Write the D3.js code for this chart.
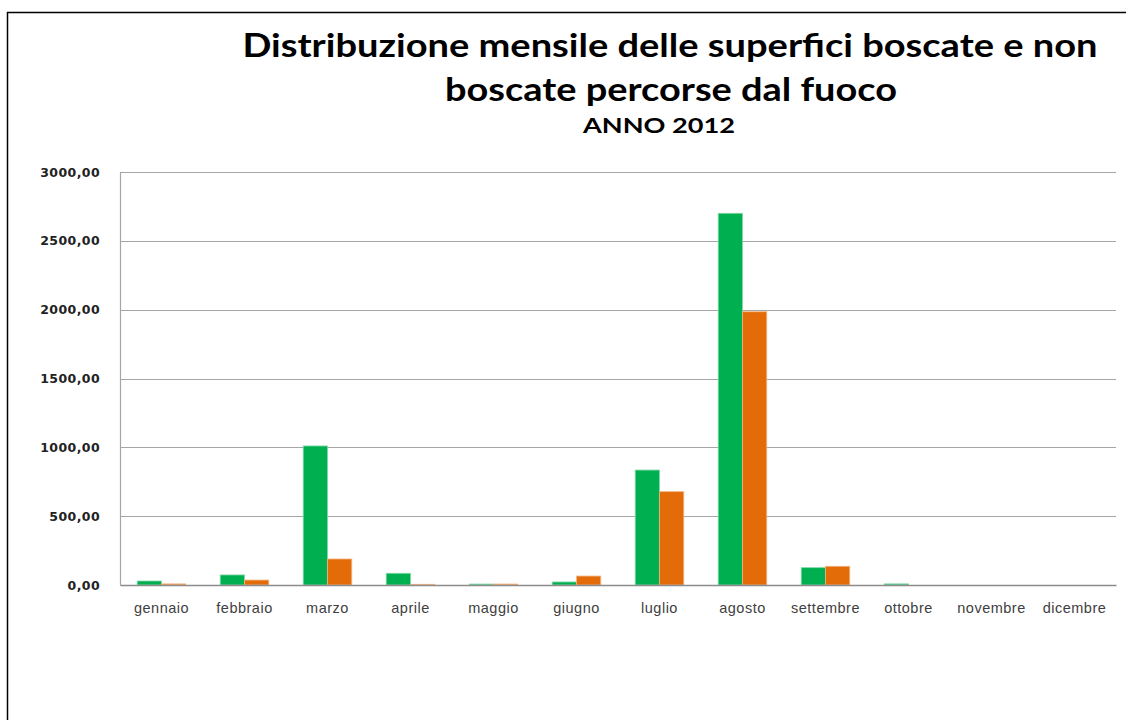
<!DOCTYPE html>
<html>
<head>
<meta charset="utf-8">
<script src="https://cdn.jsdelivr.net/npm/d3@7"></script>
<style>
  body { margin: 0; background: #fff; }
  svg { display: block; }
</style>
</head>
<body>
<div id="chart"></div>
<script>
// data
const months = ['gennaio', 'febbraio', 'marzo', 'aprile', 'maggio', 'giugno',
  'luglio', 'agosto', 'settembre', 'ottobre', 'novembre', 'dicembre'];
const boscate = [29, 73, 1010, 85, 7, 22, 835, 2700, 126, 8, 0, 0];
const nonBoscate = [8, 36, 189, 5, 7, 65, 678, 1985, 136, 0, 0, 0];
const yTicks = [0, 500, 1000, 1500, 2000, 2500, 3000];
const seriesNames = ['boscate', 'non boscate'];
const colors = ['#00B050', '#E36C09'];
const edgeColors = ['#7fd8a7', '#f2b584'];

const W = 1126, H = 720;
const margin = { top: 172, right: 10, bottom: 135, left: 120 };
const plotW = 1116 - margin.left;
const plotH = 585 - margin.top;

const svg = d3.select('#chart')
  .append('svg')
  .attr('width', W)
  .attr('height', H);

// outer frame (only top and left edges are visible)
svg.append('line')
  .attr('x1', 7.5).attr('x2', 7.5).attr('y1', 12).attr('y2', H)
  .attr('stroke', '#000').attr('stroke-width', 1.5);
svg.append('line')
  .attr('x1', 7).attr('x2', W).attr('y1', 12.5).attr('y2', 12.5)
  .attr('stroke', '#000').attr('stroke-width', 1.5);

// titles
const titleLines = [
  { text: 'Distribuzione mensile delle superfici boscate e non', x: 670, y: 57, size: 33, len: 855 },
  { text: 'boscate percorse dal fuoco', x: 671, y: 101, size: 33, len: 452 },
  { text: 'ANNO 2012', x: 659, y: 133, size: 20, len: 152 }
];
svg.selectAll('text.title')
  .data(titleLines)
  .enter()
  .append('text')
  .attr('class', 'title')
  .attr('x', d => d.x)
  .attr('y', d => d.y)
  .attr('text-anchor', 'middle')
  .attr('font-family', 'Lato, "Open Sans", sans-serif')
  .attr('font-weight', 'bold')
  .attr('font-size', d => d.size)
  .attr('textLength', d => d.len)
  .attr('lengthAdjust', 'spacingAndGlyphs')
  .attr('fill', '#000')
  .text(d => d.text);

const g = svg.append('g')
  .attr('transform', 'translate(' + margin.left + ',' + margin.top + ')');

const x0 = d3.scaleBand()
  .domain(months)
  .range([0, plotW])
  .paddingInner(0.415)
  .paddingOuter(0.2075);

const x1 = d3.scaleBand()
  .domain(seriesNames)
  .range([0, x0.bandwidth()]);

const y = d3.scaleLinear()
  .domain([0, 3000])
  .range([plotH, 0]);

// gridlines
g.selectAll('line.grid')
  .data(yTicks.filter(d => d > 0))
  .enter()
  .append('line')
  .attr('class', 'grid')
  .attr('x1', 0).attr('x2', plotW)
  .attr('y1', d => Math.round(y(d)) + 0.5)
  .attr('y2', d => Math.round(y(d)) + 0.5)
  .attr('stroke', '#a6a6a6')
  .attr('stroke-width', 1.2);

// y axis
const yAxis = d3.axisLeft(y)
  .tickValues(yTicks)
  .tickSize(0)
  .tickPadding(20)
  .tickFormat(d => d3.format('.2f')(d).replace('.', ','));

const ya = g.append('g').call(yAxis);
ya.select('.domain').attr('stroke', '#a6a6a6').attr('stroke-width', 1.2);
ya.selectAll('text')
  .attr('font-family', '"DejaVu Sans", sans-serif')
  .attr('font-weight', 'bold')
  .attr('font-size', 12.5)
  .attr('letter-spacing', 0.4)
  .attr('fill', '#222');

// bars
const series = [boscate, nonBoscate];
const groups = g.selectAll('g.month')
  .data(months)
  .enter()
  .append('g')
  .attr('class', 'month')
  .attr('transform', d => 'translate(' + x0(d) + ',0)');

groups.selectAll('rect')
  .data((m, i) => series.map((s, j) => ({ key: seriesNames[j], value: s[i], j: j })))
  .enter()
  .append('rect')
  .filter(d => d.value > 0)
  .attr('x', d => x1(d.key))
  .attr('y', d => y(d.value))
  .attr('width', x1.bandwidth())
  .attr('height', d => plotH - y(d.value))
  .attr('fill', d => colors[d.j])
  .attr('stroke', d => edgeColors[d.j])
  .attr('stroke-width', 0.8);

// x axis (baseline + labels)
const xAxis = d3.axisBottom(x0).tickSize(0).tickPadding(18);
const xa = g.append('g')
  .attr('transform', 'translate(0,' + plotH + ')')
  .call(xAxis);
xa.select('.domain').attr('stroke', '#8c8c8c').attr('stroke-width', 1.5);
xa.selectAll('text')
  .attr('font-family', '"Liberation Sans", Arial, sans-serif')
  .attr('font-size', 14.5)
  .attr('letter-spacing', 0.5)
  .attr('fill', '#404040');
</script>
</body>
</html>
